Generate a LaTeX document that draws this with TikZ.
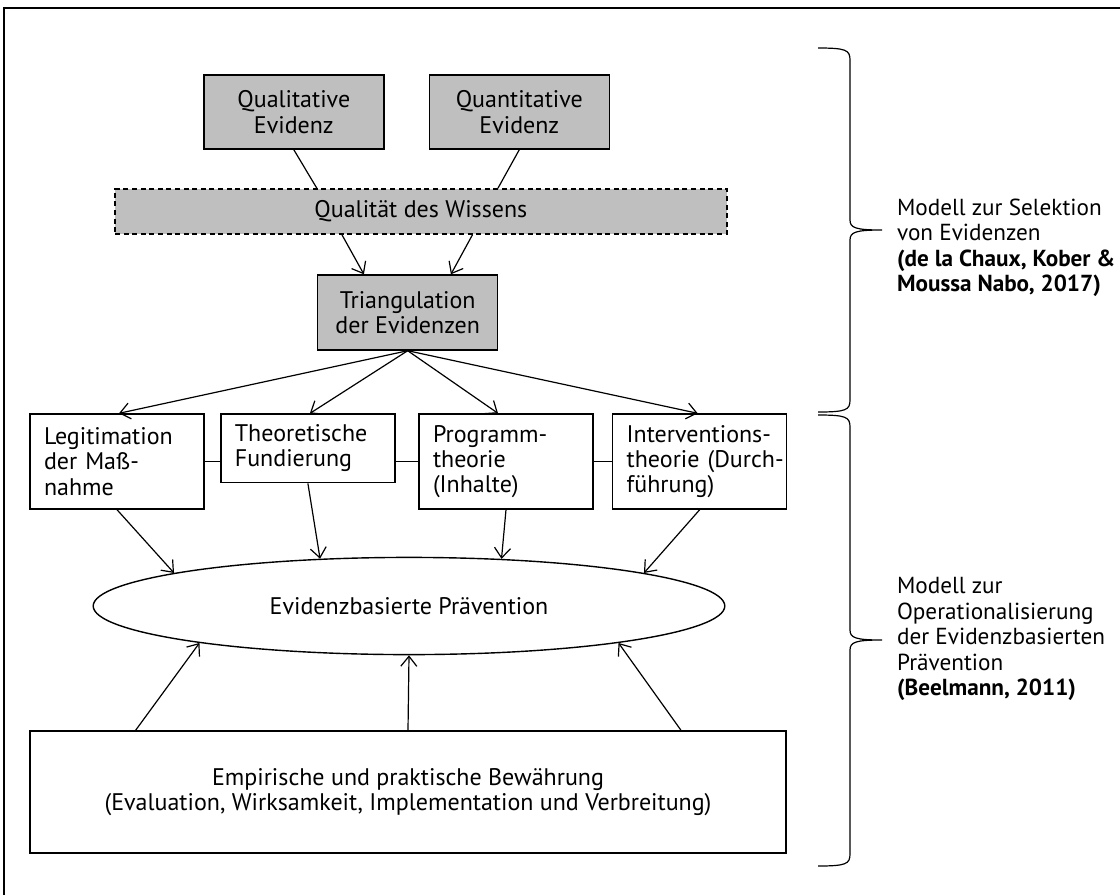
\documentclass[tikz,border=0pt]{standalone}
\usepackage{fontspec}
\setmainfont{PT Sans}
\usetikzlibrary{arrows.meta,shapes.geometric}
\definecolor{boxgray}{RGB}{191,191,191}
\begin{document}
\begin{tikzpicture}[x=0.5pt,y=-0.5pt,
  every node/.style={font=\fontsize{12}{12.6}\selectfont},
  base/.style={draw=black, line width=0.7pt, inner sep=0pt},
  graybox/.style={base, fill=boxgray, align=center, minimum width=90pt, minimum height=37pt},
  leftbox/.style={base, align=left, text width=73pt, inner xsep=7pt, minimum height=47.5pt},
  arr/.style={-{Straight Barb[length=5pt,width=8pt]}, line width=0.6pt},
  link/.style={line width=0.6pt},
  bracepath/.style={line width=0.6pt},
  sidetext/.style={anchor=west, align=left, font=\fontsize{11.6}{12.75}\selectfont},
]
\useasboundingbox (0,0) rectangle (1120,895);
\draw[line width=1pt] (1120,8) -- (4,8) -- (4,895);

% top boxes
\node[graybox] (qual) at (293.8,112) {Qualitative\\Evidenz};
\node[graybox] (quant) at (519.3,112) {Quantitative\\Evidenz};
\node[base, fill=boxgray, dashed, dash pattern=on 2.5pt off 1.8pt, minimum width=306pt, minimum height=22.5pt] (wissen) at (420.9,211.5) {Qualität des Wissens};
\node[graybox, minimum height=37.5pt] (tri) at (407.7,312.5) {Triangulation\\der Evidenzen};

% middle boxes
\node[leftbox] (legit) at (117,461.5) {\mbox{Legitimation}\\\mbox{der Maß-}\\\mbox{nahme}};
\node[leftbox, minimum height=34.3pt] (theo) at (307.9,448.4) {\mbox{Theoretische}\\\mbox{Fundierung}};
\node[leftbox] (prog) at (506,461.5) {\mbox{Programm-}\\\mbox{theorie}\\\mbox{(Inhalte)}};
\node[leftbox] (interv) at (699.7,461.5) {\mbox{Interventions-}\\\mbox{theorie (Durch-}\\\mbox{führung)}};

% ellipse
\node[base, ellipse, minimum width=315.8pt, minimum height=48.6pt, font=\fontsize{12}{14}\selectfont] (ell) at (409,606) {Evidenzbasierte Prävention};

% bottom box
\node[base, align=center, minimum width=378pt, minimum height=61pt] (bottom) at (408,792) {Empirische und praktische Bewährung\\(Evaluation, Wirksamkeit, Implementation und Verbreitung)};

% connectors
\draw[link] (qual.south) -- ([xshift=-52pt]wissen.north);
\draw[link] (quant.south) -- ([xshift=38.5pt]wissen.north);
\draw[arr] ([xshift=-39.5pt]wissen.south) -- ([xshift=-21.9pt]tri.north);
\draw[arr] ([xshift=25.8pt]wissen.south) -- ([xshift=21.6pt]tri.north);

\draw[arr] (tri.south) -- ([xshift=1pt]legit.north);
\draw[arr] (tri.south) -- ([xshift=1pt]theo.north);
\draw[arr] (tri.south) -- ([xshift=-4pt]prog.north);
\draw[arr] (tri.south) -- ([xshift=-1pt]interv.north);

\draw[link] (legit.east) -- (legit.east -| theo.west);
\draw[link] (prog.west -| theo.east) -- (prog.west);
\draw[link] (prog.east) -- (interv.west);

\draw[arr] (legit.south) -- (ell.172.6);
\draw[arr] (theo.south) -- (ell.152.9);
\draw[arr] (prog.south) -- (ell.27.3);
\draw[arr] (interv.south) -- (ell.8.9);

\draw[arr] ([xshift=-136.2pt]bottom.north) -- (ell.190.7);
\draw[arr] (bottom.north) -- (ell.south);
\draw[arr] ([xshift=136.5pt]bottom.north) -- (ell.-10.8);

% braces
\draw[bracepath] (818,48) .. controls (846,48) and (850,50) .. (850,60) -- (850,220)
  .. controls (850,228) and (856,230) .. (882,230)
  .. controls (856,230) and (850,232) .. (850,240) -- (850,400)
  .. controls (850,410) and (846,412) .. (818,412);
\draw[bracepath] (818,415) .. controls (846,415) and (850,417) .. (850,427) -- (850,630)
  .. controls (850,638) and (856,640) .. (882,640)
  .. controls (856,640) and (850,642) .. (850,650) -- (850,854)
  .. controls (850,864) and (846,866) .. (818,866);

\node[sidetext] (t1) at (890,248) {Modell zur Selektion\\von Evidenzen\\\textbf{(de la Chaux, Kober \&}\\\textbf{Moussa Nabo, 2017)}};
\node[sidetext] (t2) at (890,639) {Modell zur\\Operationalisierung\\der Evidenzbasierten\\Prävention\\\textbf{(Beelmann, 2011)}};
\end{tikzpicture}
\end{document}
